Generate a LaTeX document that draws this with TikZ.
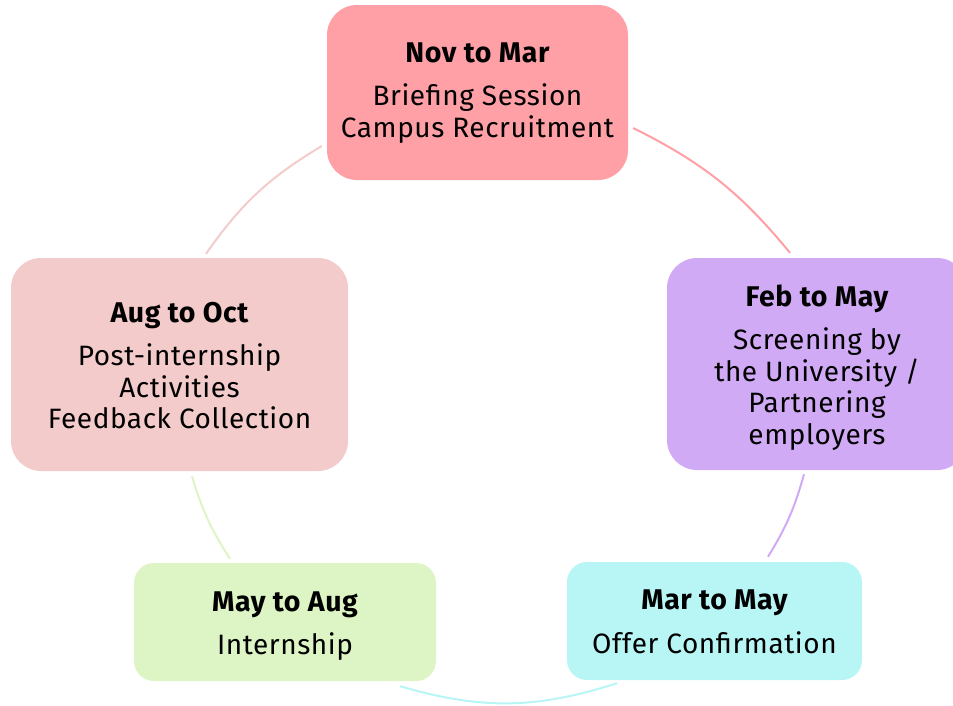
\documentclass[tikz,border=0pt]{standalone}
\usepackage{fontspec}
\setmainfont[LetterSpace=2]{Fira Sans}
\usetikzlibrary{calc}
\definecolor{cTop}{RGB}{254,160,166}
\definecolor{cRight}{RGB}{209,170,246}
\definecolor{cBR}{RGB}{184,245,245}
\definecolor{cBL}{RGB}{221,245,196}
\definecolor{cLeft}{RGB}{244,203,203}
\newcommand{\ttl}[2][22pt]{{\bfseries\fontsize{28.5}{32}\selectfont\rule{0pt}{#1}#2}}
\tikzset{
  box/.style={rounded corners=30pt, align=center, inner sep=0pt,
    font=\fontsize{28}{31.5}\selectfont, text=black},
  smallbox/.style={box, rounded corners=20pt},
  link/.style={line width=2pt},
}
\begin{document}
\begin{tikzpicture}[x=1pt,y=-1pt]
\useasboundingbox (0,0) rectangle (953,705);
\node[box, fill=cTop, minimum width=301pt, minimum height=175pt] (top) at (477.5,92.5)
  {\ttl[20pt]{Nov to Mar}\\[12pt]Briefing Session\\Campus Recruitment};
\node[box, fill=cRight, minimum width=300pt, minimum height=212pt] (right) at (817,364)
  {\ttl[28pt]{Feb to May}\\[12pt]Screening by\\the University /\\Partnering\\employers};
\node[smallbox, fill=cBR, minimum width=295pt, minimum height=118pt] (br) at (714.5,621)
  {\ttl[21pt]{Mar to May}\\[12pt]Offer Confirmation};
\node[smallbox, fill=cBL, minimum width=302pt, minimum height=118pt] (bl) at (285,622)
  {\ttl[28pt]{May to Aug}\\[12pt]Internship};
\node[box, fill=cLeft, minimum width=337pt, minimum height=213pt] (left) at (179.5,364.5)
  {\ttl{Aug to Oct}\\[12pt]Post-internship\\Activities\\Feedback Collection};
\draw[link, cTop] ($(top.east)+(5,35.5)$) to[bend left=12] ($(right.north)+(-27,-5)$);
\draw[link, cRight] ($(right.south)+(-13,4)$) to[bend left=8] ($(br.north)+(53.5,-5)$);
\draw[link, cBR] ($(br.south)+(-97.5,3)$) to[bend left=17] ($(bl.south)+(115,5)$);
\draw[link, cBL] ($(bl.north)+(-55,-4)$) to[bend left=8] ($(left.south)+(12.5,5)$);
\draw[link, cLeft] ($(left.north)+(26.5,-4)$) to[bend left=12] ($(top.west)+(-5,53.5)$);
\end{tikzpicture}
\end{document}
